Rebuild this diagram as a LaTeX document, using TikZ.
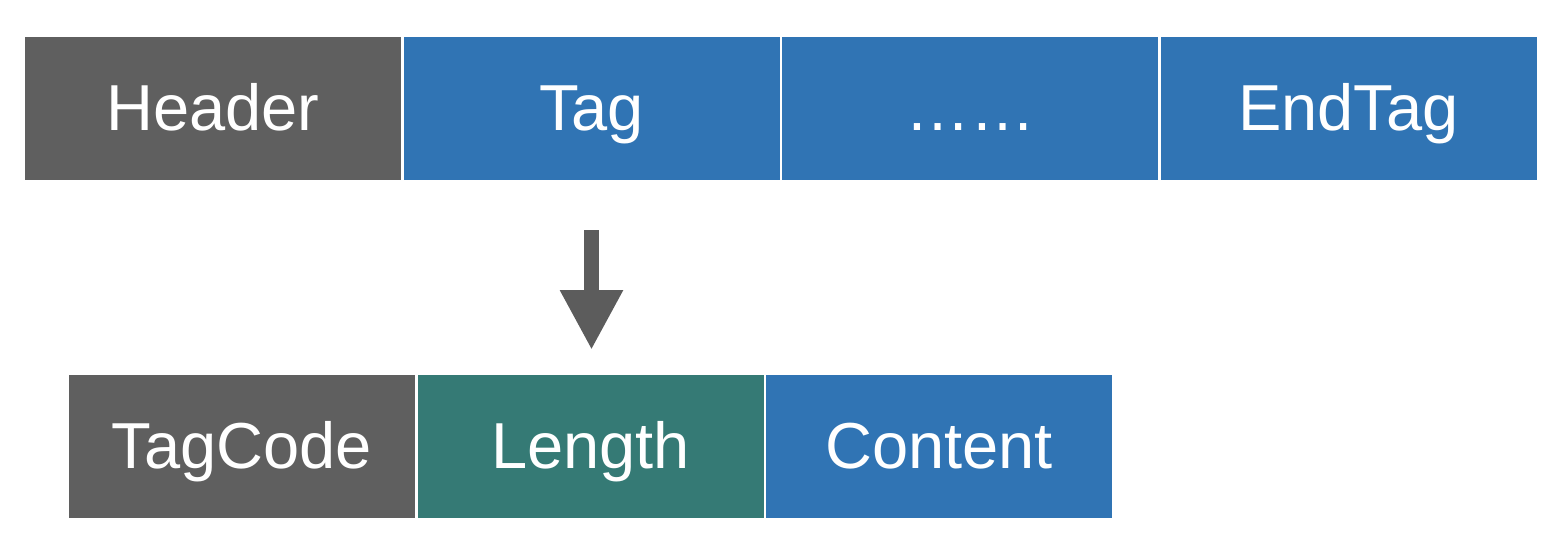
\documentclass[tikz,border=0pt]{standalone}
\usepackage{fontspec}
\setmainfont{Liberation Sans}
\usepackage{tikz}
\usetikzlibrary{arrows.meta,positioning}

\definecolor{boxgray}{HTML}{5F5F5F}
\definecolor{boxblue}{HTML}{3074B4}
\definecolor{boxteal}{HTML}{357A75}
\definecolor{arrowgray}{HTML}{5C5C5C}

\begin{document}
\begin{tikzpicture}[
  x=1pt,y=1pt,
  font=\fontsize{65}{78}\selectfont,
  field/.style={draw=none,text=white,inner sep=0pt,outer sep=0pt,minimum height=143pt,
    text height=47pt,text depth=4pt},
  topfield/.style={field,minimum width=376pt},
  subfield/.style={field,minimum width=346pt},
  bigarrow/.style={arrowgray,line width=15pt,-{Triangle[width=59pt,length=60pt]}}
]
\useasboundingbox (0,0) rectangle (1558,-550);
\node[topfield,fill=boxgray,anchor=north west] (header) at (25,-37) {Header};
\node[topfield,fill=boxblue,right=2.5pt of header] (tag) {Tag};
\node[topfield,fill=boxblue,right=2.5pt of tag] (more) {……};
\node[topfield,fill=boxblue,right=2.5pt of more] (endtag) {EndTag};
% one tag, split into its parts
\node[subfield,fill=boxgray,anchor=north west] (tagcode) at (69,-375) {TagCode};
\node[subfield,fill=boxteal,right=2.5pt of tagcode] (length) {Length};
\node[subfield,fill=boxblue,right=2.5pt of length] (content) {Content};
\draw[bigarrow,shorten <=50pt,shorten >=25pt] (tag.south) -- (tag.south |- length.north);
\end{tikzpicture}
\end{document}
